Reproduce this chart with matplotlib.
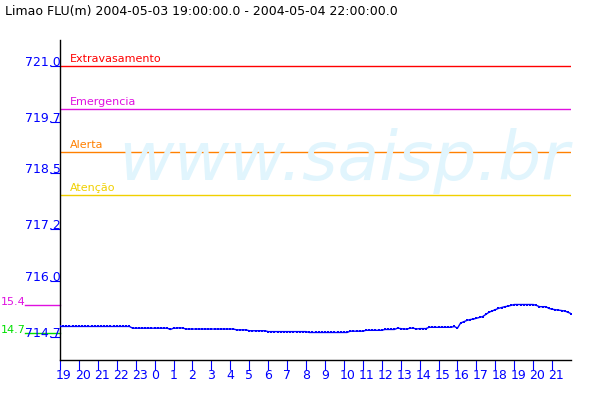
import numpy as np
import matplotlib
matplotlib.use("Agg")
import matplotlib.pyplot as plt
import matplotlib.transforms as mtransforms

TITLE = "Limao FLU(m) 2004-05-03 19:00:00.0 - 2004-05-04 22:00:00.0"

# level readings every 10 minutes from 19:00
level = [
    714.94, 714.94, 714.94, 714.94, 714.94, 714.94, 714.94, 714.94, 714.94, 714.94,
    714.94, 714.94, 714.94, 714.94, 714.94, 714.94, 714.94, 714.94, 714.94, 714.94,
    714.94, 714.94, 714.94,
    714.90, 714.90, 714.90, 714.90, 714.90, 714.90, 714.90, 714.90, 714.90, 714.90,
    714.90, 714.90,
    714.87, 714.90, 714.90, 714.91, 714.90,
    714.88, 714.88, 714.88, 714.88, 714.88, 714.88, 714.88, 714.88, 714.88, 714.88,
    714.88, 714.88, 714.88, 714.88, 714.88, 714.88,
    714.86, 714.86, 714.86, 714.86,
    714.84, 714.84, 714.84, 714.84, 714.84, 714.84,
    714.82, 714.82, 714.82, 714.82, 714.82, 714.82, 714.82, 714.82, 714.82, 714.82,
    714.82, 714.82, 714.82,
    714.80, 714.80, 714.80, 714.80, 714.80, 714.80, 714.80, 714.80, 714.80, 714.80,
    714.80, 714.80, 714.80,
    714.83, 714.83, 714.83, 714.83, 714.83,
    714.85, 714.85, 714.85, 714.85, 714.85, 714.85,
    714.87, 714.87, 714.87, 714.87,
    714.90, 714.89, 714.88, 714.88, 714.90, 714.90, 714.88, 714.89, 714.89, 714.89,
    714.92, 714.92, 714.92, 714.92, 714.92, 714.92, 714.92, 714.92,
    714.94, 714.90, 715.02, 715.05, 715.08, 715.10, 715.11, 715.13, 715.15, 715.17,
    715.22, 715.27, 715.30, 715.33, 715.36, 715.38, 715.40, 715.41, 715.43,
    715.45, 715.45, 715.45, 715.45, 715.45, 715.45, 715.45,
    715.43, 715.40, 715.40, 715.40,
    715.36, 715.34, 715.33, 715.32, 715.31, 715.30, 715.27, 715.24,
]
hours = np.arange(len(level)) * 10 / 60.0

hour_labels = ["19", "20", "21", "22", "23", "0", "1", "2", "3", "4", "5", "6", "7",
               "8", "9", "10", "11", "12", "13", "14", "15", "16", "17", "18", "19",
               "20", "21"]
ytick_vals = [714.7, 716.0, 717.2, 718.5, 719.7, 721.0]

limit_names = ["Extravasamento", "Emergencia", "Alerta", "Atenção"]
limit_vals = [721.0, 720.0, 719.0, 718.0]
limit_colors = ["#ff0000", "#e010e0", "#ff8000", "#f0d000"]

side_labels = ["15.4", "14.7"]
side_vals = [715.43, 714.78]
side_colors = ["#e010e0", "#00e000"]

fig = plt.figure(figsize=(6, 4), dpi=100)
ax = fig.add_axes([60 / 600, 40 / 400, 511 / 600, 320 / 400])
ax.set_xlim(0, 27)
ax.set_ylim(714.16, 721.60)

for s in ["top", "right"]:
    ax.spines[s].set_visible(False)
for s in ["left", "bottom"]:
    ax.spines[s].set_linewidth(1.0)
    ax.spines[s].set_color("black")

# watermark
fig.text(118 / 600, 1 - 180 / 400, "www.saisp.br", fontsize=49, style="italic",
         color="#e1f5fd", ha="left", va="baseline", zorder=0)

fig.text(5 / 600, 1 - 12 / 400, TITLE, fontsize=9, ha="left", va="center")

# y ticks
ax.set_yticks(ytick_vals)
ax.tick_params(axis="y", direction="out", length=7.2, width=0.8, color="blue",
               labelleft=False)
ytr = ax.get_yaxis_transform()
for v in ytick_vals:
    ax.text(0.002, v, "%.1f" % v, transform=ytr, ha="right", va="baseline",
            fontsize=9, color="blue", clip_on=False)

# x ticks
ax.set_xticks(range(len(hour_labels)))
ax.tick_params(axis="x", direction="out", length=7.2, width=0.8, color="blue",
               labelbottom=False)
xtr = ax.get_xaxis_transform()
for h, lab in enumerate(hour_labels):
    ax.text(h - 0.21, -0.047, lab, transform=xtr, ha="left", va="center",
            fontsize=9, color="blue", clip_on=False)

# threshold lines
lab_tr = mtransforms.offset_copy(ytr, fig=fig, x=0, y=4, units="dots")
for name, v, c in zip(limit_names, limit_vals, limit_colors):
    ax.axhline(v, color=c, lw=1.0, zorder=2)
    ax.text(10 / 511, v, name, transform=lab_tr, ha="left", va="baseline",
            fontsize=8, color=c)

# small marks left of the axis
for lab, v, c in zip(side_labels, side_vals, side_colors):
    ax.plot([-35 / 511, 0], [v, v], transform=ytr, color=c, lw=1.0, clip_on=False)
    ax.text(-59 / 511, v, lab, transform=ytr, ha="left", va="baseline",
            fontsize=8, color=c, clip_on=False)

ax.plot(hours, level, color="blue", lw=1.0, marker="s", markersize=2,
        markeredgewidth=0, zorder=3)

fig.savefig("out.png", dpi=100)
